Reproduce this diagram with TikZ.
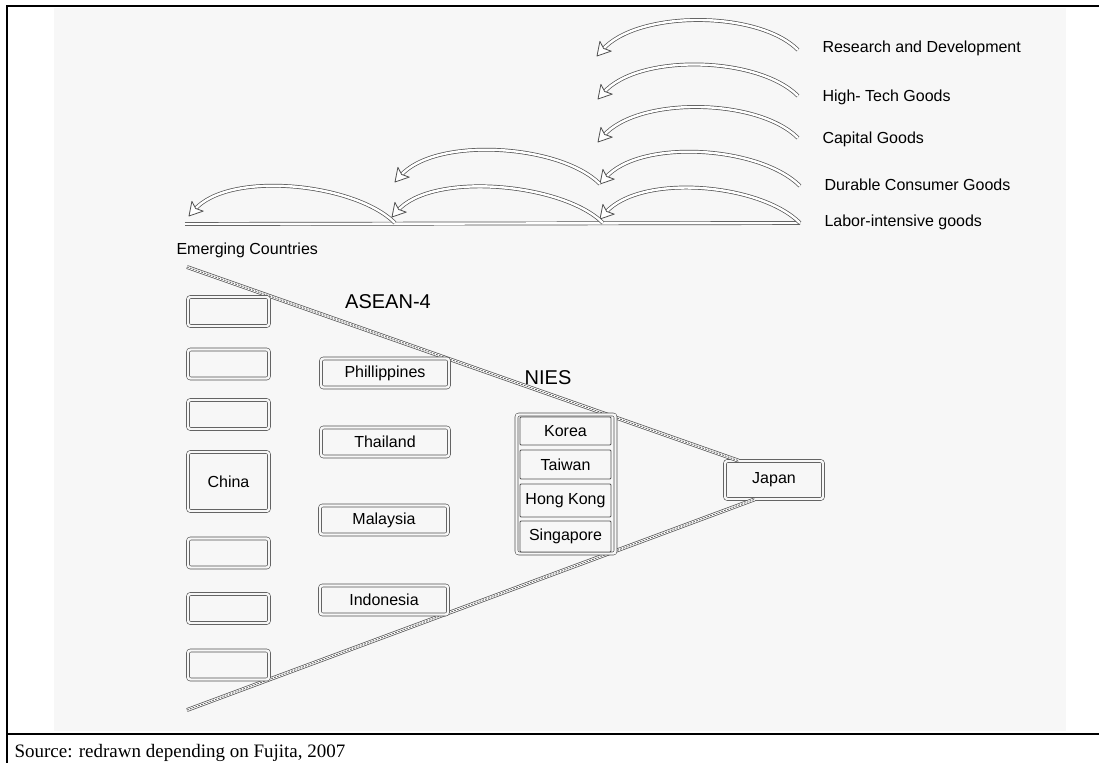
\documentclass[tikz,border=0pt]{standalone}
\usepackage{fontspec}
\setmainfont{Liberation Serif}
\setsansfont{Liberation Sans}
\usetikzlibrary{arrows.meta,calc}
\definecolor{panel}{HTML}{F7F7F7}
\definecolor{edge}{HTML}{505050}

\begin{document}
\begin{tikzpicture}[x=1pt,y=-1pt,
    lbl/.style={font=\sffamily\fontsize{16}{19}\selectfont, anchor=west},
    grp/.style={font=\sffamily\fontsize{20}{24}\selectfont},
    cbox/.style={draw=edge, double=panel, double distance=2.4pt, line width=0.6pt, rounded corners=2.5pt,
        fill=panel, minimum width=81pt, minimum height=29pt, inner sep=0pt, font=\sffamily\fontsize{16}{19}\selectfont},
    nbox/.style={draw=edge, line width=0.8pt, rounded corners=1pt, fill=panel, minimum width=91pt,
        inner sep=0pt, font=\sffamily\fontsize{16}{19}\selectfont},
    hump/.style={draw=edge, line width=0.7pt, double=white, double distance=2.4pt, shorten >=8pt},
    tiphead/.style={draw=edge, line width=0.8pt, fill=white, line join=round},
    rail/.style={draw=edge, line width=0.7pt, double=white, double distance=2.4pt},
    railhatch/.style={draw=gray!80!black, line width=0.9pt, dash pattern=on 1.8pt off 1.2pt}
]
\useasboundingbox (0,0) rectangle (1099,763);
\fill[white] (0,0) rectangle (1099,763);
\fill[panel] (54,8) rectangle (1066,731);
\draw[line width=2.2pt] (1099,6) -- (7,6) -- (7,763);
\draw[line width=2.2pt] (7,734) -- (1099,734);
\node[anchor=base west, font=\fontsize{19}{21}\selectfont] (src) at (11,757) {Source: redrawn depending on Fujita, 2007};

% goods ladder
\coordinate (rd0) at (798,50);  \coordinate (rd1) at (597,56);
\coordinate (ht0) at (798,96);  \coordinate (ht1) at (598,99);
\coordinate (cg0) at (798,138); \coordinate (cg1) at (598,142);
\coordinate (dc0) at (800,186); \coordinate (dc1) at (600,184); \coordinate (dc2) at (395,182);
\coordinate (li0) at (800,223); \coordinate (li1) at (600,219); \coordinate (li2) at (392,217); \coordinate (li3) at (189,216);
\coordinate (lim1) at (603,223); \coordinate (lim2) at (395,223); \coordinate (base) at (185,224);

\draw[rail] (base) -- (li0);
\foreach \a/\b in {rd0/rd1, ht0/ht1, cg0/cg1, dc0/dc1, dc1/dc2, li0/li1, lim1/li2, lim2/li3} {
    \draw[hump] (\a) .. controls +(-40,-40) and +(40,-46) .. (\b);
    \draw[tiphead] (\b) -- +(14.2,-4.9) -- +(6.6,-7.5) -- +(2.9,-14.7) -- cycle;
}

\node[lbl] (rd) at (819,48) {Research and Development};
\node[lbl] (ht) at (819,97) {High- Tech Goods};
\node[lbl] (cg) at (819,139) {Capital Goods};
\node[lbl] (dc) at (821,185) {Durable Consumer Goods};
\node[lbl] (li) at (821,222) {Labor-intensive goods};

% countries
\node[lbl] (emerging) at (173,250) {Emerging Countries};
\node[grp] (asean) at (388,302) {ASEAN-4};
\node[grp] (nies) at (548,378) {NIES};

\node[cbox, minimum width=98pt, minimum height=38pt] (japan) at (774,480) {Japan};

\coordinate (ectop) at (187,267);
\coordinate (ecbot) at (187,710);
\draw[rail] (ectop) -- ($(japan.north west)+(14,0)$);
\draw[railhatch] (ectop) -- ($(japan.north west)+(14,0)$);
\draw[rail] (ecbot) -- ($(japan.south west)+(30,0)$);
\draw[railhatch] (ecbot) -- ($(japan.south west)+(30,0)$);

\node[cbox] (e1) at (228.5,311.5) {};
\node[cbox] (e2) at (228.5,364) {};
\node[cbox] (e3) at (228.5,414.5) {};
\node[cbox, minimum height=59pt] (china) at (228.5,481.5) {China};
\node[cbox] (e5) at (228.5,553) {};
\node[cbox] (e6) at (228.5,608.5) {};
\node[cbox] (e7) at (228.5,665) {};

\node[cbox, minimum width=128pt] (phil) at (385,373) {Phillippines};
\node[cbox, minimum width=128pt] (thai) at (385,442) {Thailand};
\node[cbox, minimum width=128pt] (malay) at (384,520) {Malaysia};
\node[cbox, minimum width=128pt] (indo) at (384,600) {Indonesia};

\node[cbox, minimum width=99pt, minimum height=139pt] (niesbox) at (566,484) {};
\node[nbox, minimum height=28pt] (korea) at (565.5,431) {Korea};
\node[nbox, minimum height=29pt] (taiwan) at (565.5,464.5) {Taiwan};
\node[nbox, minimum height=33pt] (hk) at (565.5,500.5) {Hong Kong};
\node[nbox, minimum height=31pt] (sing) at (565.5,536.5) {Singapore};
\end{tikzpicture}
\end{document}
